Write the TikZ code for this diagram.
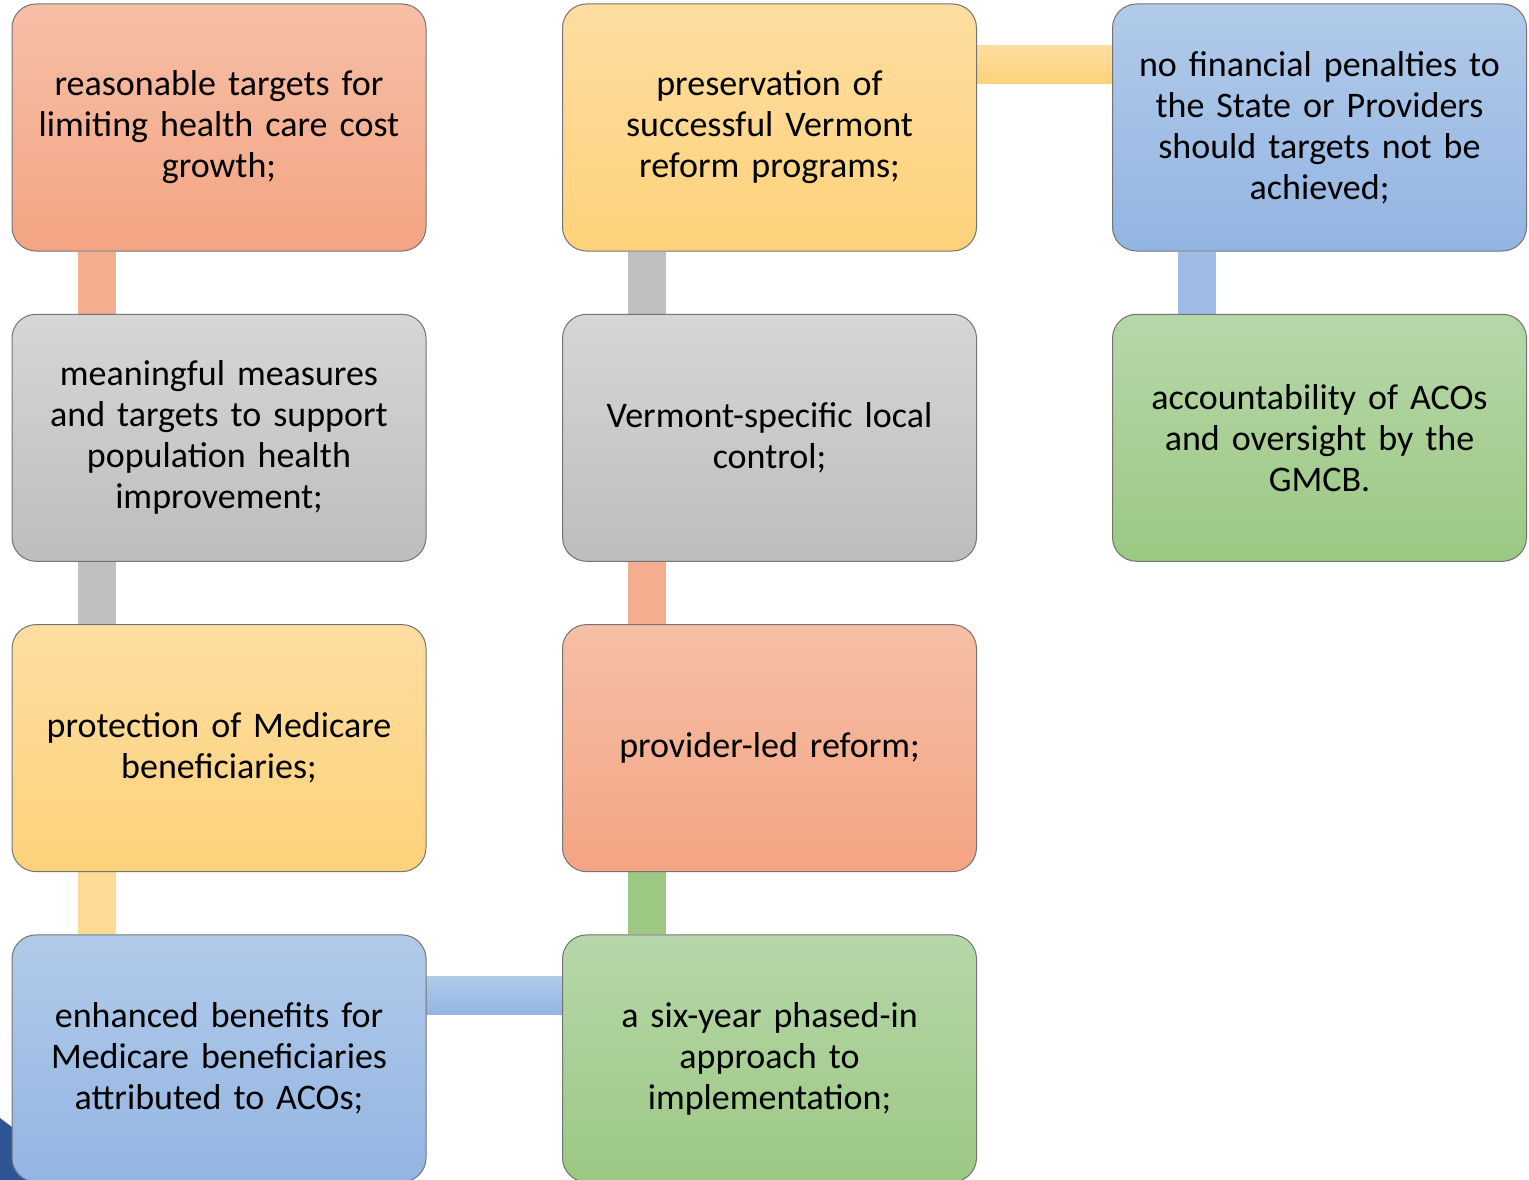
\documentclass[tikz,border=0pt]{standalone}
\usepackage{fontspec}
\setmainfont{Carlito}
\usetikzlibrary{positioning,backgrounds}

\definecolor{orangeT}{HTML}{F6BFA6}
\definecolor{orangeB}{HTML}{F4A483}
\definecolor{grayT}{HTML}{D6D6D6}
\definecolor{grayB}{HTML}{BDBDBD}
\definecolor{yellowT}{HTML}{FEDDA1}
\definecolor{yellowB}{HTML}{FDD27A}
\definecolor{blueT}{HTML}{B1CAE9}
\definecolor{blueB}{HTML}{93B5E3}
\definecolor{greenT}{HTML}{B6D7A9}
\definecolor{greenB}{HTML}{9CC883}
\definecolor{navy}{HTML}{2F5597}

\tikzset{
	stage/.style={draw=black!55, line width=1pt, rounded corners=24pt,
		minimum width=414pt, minimum height=247pt, inner sep=0pt,
		align=center, text width=410pt, font=\fontsize{36}{41}\selectfont},
	orangebox/.style={stage, top color=orangeT, bottom color=orangeB},
	graybox/.style={stage, top color=grayT, bottom color=grayB},
	yellowbox/.style={stage, top color=yellowT, bottom color=yellowB},
	bluebox/.style={stage, top color=blueT, bottom color=blueB},
	greenbox/.style={stage, top color=greenT, bottom color=greenB},
}

\begin{document}
\begin{tikzpicture}[x=1pt,y=-1pt]
	\useasboundingbox (0,0) rectangle (1529,1180);

	\node[orangebox] (cost) at (219,127.5) {reasonable targets for\\limiting health care cost\\growth;};
	\node[graybox, below=62.3pt of cost] (measures) {meaningful measures\\and targets to support\\population health\\improvement;};
	\node[yellowbox, below=62.3pt of measures] (protection) {protection of Medicare\\beneficiaries;};
	\node[bluebox, below=62.3pt of protection] (benefits) {enhanced benefits for\\Medicare beneficiaries\\attributed to ACOs;};
	\node[greenbox, right=135.5pt of benefits] (phasein) {a six-year phased-in\\approach to\\implementation;};
	\node[orangebox, above=62.3pt of phasein] (provider) {provider-led reform;};
	\node[graybox, above=62.3pt of provider] (local) {Vermont-specific local\\control;};
	\node[yellowbox, above=62.3pt of local] (preserve) {preservation of\\successful Vermont\\reform programs;};
	\node[bluebox, right=135pt of preserve] (penalties) {no financial penalties to\\the State or Providers\\should targets not be\\achieved;};
	\node[greenbox, below=62.3pt of penalties] (oversight) {accountability of ACOs\\and oversight by the\\GMCB.};

	\begin{scope}[on background layer]
		\fill[navy] (0,1118) -- (40,1148) -- (40,1180) -- (0,1180) -- cycle;

		\fill[orangeB!90!white] ([xshift=66pt]cost.south west) rectangle ([xshift=104pt]measures.north west);
		\fill[grayB!95!white] ([xshift=66pt]measures.south west) rectangle ([xshift=104pt]protection.north west);
		\fill[yellowB!80!white] ([xshift=66pt]protection.south west) rectangle ([xshift=104pt]benefits.north west);
		\fill[top color=blueT, bottom color=blueB] ([yshift=-42pt]benefits.north east) rectangle ([yshift=-80pt]phasein.north west);
		\fill[greenB] ([xshift=66pt]provider.south west) rectangle ([xshift=104pt]phasein.north west);
		\fill[orangeB!90!white] ([xshift=66pt]local.south west) rectangle ([xshift=104pt]provider.north west);
		\fill[grayB!95!white] ([xshift=66pt]preserve.south west) rectangle ([xshift=104pt]local.north west);
		\fill[top color=yellowT, bottom color=yellowB] ([yshift=-42pt]preserve.north east) rectangle ([yshift=-80pt]penalties.north west);
		\fill[blueB!90!white] ([xshift=66pt]penalties.south west) rectangle ([xshift=104pt]oversight.north west);
	\end{scope}
\end{tikzpicture}
\end{document}
